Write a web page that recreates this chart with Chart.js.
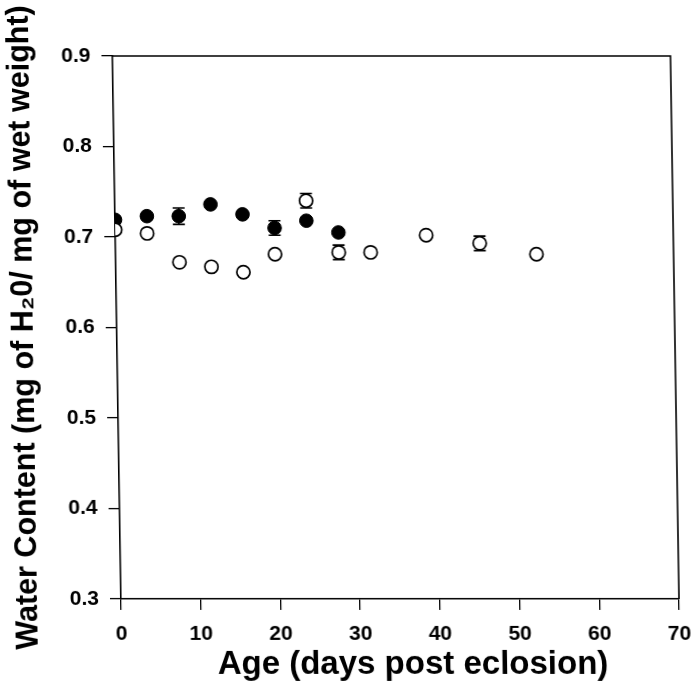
<!DOCTYPE html>
<html>
<head>
<meta charset="utf-8">
<script src="https://cdn.jsdelivr.net/npm/chart.js@4.4.1/dist/chart.umd.min.js"></script>
<style>
  html, body { margin: 0; padding: 0; background: #fff; }
  #wrap { width: 692px; height: 691px; }
  #c { display: block; transform: skewX(0.9deg); transform-origin: 0 599px; }
</style>
</head>
<body>
<div id="wrap"><canvas id="c" width="692" height="691"></canvas></div>
<script>
// ---- data ----
const filledDays = [0, 4, 8, 12, 16, 20, 24, 28];
const filledWater = [0.719, 0.723, 0.723, 0.736, 0.725, 0.710, 0.718, 0.705];
const filledErr = [0, 0, 0.009, 0, 0, 0.008, 0, 0];

const openDays = [0, 4, 8, 12, 16, 20, 24, 28, 32, 39, 45.7, 52.8];
const openWater = [0.708, 0.704, 0.672, 0.667, 0.661, 0.681, 0.740, 0.683, 0.683, 0.702, 0.693, 0.681];
const openErr = [0, 0, 0, 0, 0, 0, 0.008, 0.008, 0, 0, 0.008, 0];

const xTicks = [0, 10, 20, 30, 40, 50, 60, 70];
const yTicks = [0.3, 0.4, 0.5, 0.6, 0.7, 0.8, 0.9];

const xTitle = 'Age (days post eclosion)';
const yTitle = 'Water Content (mg of H\u20820/ mg of wet weight)';

const toPts = (xs, ys) => xs.map((x, i) => ({ x: x, y: ys[i] }));

const fontFam = '"Liberation Sans", Arial, Helvetica, sans-serif';

const errorBars = {
  id: 'errorBars',
  beforeDatasetsDraw(chart) {
    const ctx = chart.ctx;
    const xs = chart.scales.x, ys = chart.scales.y;
    chart.data.datasets.forEach((ds) => {
      const errs = ds.errs || [];
      ds.data.forEach((p, i) => {
        const e = errs[i];
        if (!e) return;
        const px = xs.getPixelForValue(p.x);
        const top = ys.getPixelForValue(p.y + e);
        const bot = ys.getPixelForValue(p.y - e);
        ctx.save();
        ctx.strokeStyle = '#000';
        ctx.lineWidth = 1.6;
        ctx.beginPath();
        ctx.moveTo(px, top); ctx.lineTo(px, bot);
        ctx.moveTo(px - 6, top); ctx.lineTo(px + 6, top);
        ctx.moveTo(px - 6, bot); ctx.lineTo(px + 6, bot);
        ctx.stroke();
        ctx.restore();
      });
    });
  }
};

const frame = {
  id: 'frame',
  afterDraw(chart) {
    const { left, right, top, bottom } = chart.chartArea;
    const ctx = chart.ctx;
    ctx.save();
    ctx.strokeStyle = '#000';
    ctx.lineWidth = 1.6;
    ctx.beginPath();
    ctx.moveTo(left, top); ctx.lineTo(right, top); ctx.lineTo(right, bottom);
    ctx.stroke();
    ctx.restore();
  }
};

// x-axis title drawn slightly right of the axis centre, as in the reference
const xTitlePlugin = {
  id: 'xTitlePlugin',
  afterDraw(chart) {
    const s = chart.scales.x;
    const ctx = chart.ctx;
    ctx.save();
    ctx.fillStyle = '#000';
    ctx.font = 'bold 33px ' + fontFam;
    ctx.textAlign = 'center';
    ctx.textBaseline = 'middle';
    ctx.fillText(xTitle, (s.left + s.right) / 2 + 12, 665);
    ctx.restore();
  }
};

new Chart(document.getElementById('c'), {
  type: 'scatter',
  data: {
    datasets: [
      {
        label: 'open',
        data: toPts(openDays, openWater),
        errs: openErr,
        pointRadius: 6.6,
        pointHoverRadius: 6.6,
        pointBackgroundColor: '#fff',
        pointBorderColor: '#000',
        pointBorderWidth: 1.7,
        showLine: false
      },
      {
        label: 'filled',
        data: toPts(filledDays, filledWater),
        errs: filledErr,
        pointRadius: 6.8,
        pointHoverRadius: 6.8,
        pointBackgroundColor: '#000',
        pointBorderColor: '#000',
        pointBorderWidth: 1,
        showLine: false
      }
    ]
  },
  options: {
    responsive: false,
    animation: false,
    devicePixelRatio: 1,
    layout: { padding: { top: 56, right: 13, left: 0, bottom: 0 } },
    plugins: { legend: { display: false }, tooltip: { enabled: false } },
    scales: {
      x: {
        type: 'linear',
        min: 0, max: 70,
        afterFit(s) { s.height = 92; s.paddingRight = 0; s.paddingLeft = 0; },
        afterBuildTicks(s) { s.ticks = xTicks.map(v => ({ value: v })); },
        border: { display: true, color: '#000', width: 1.6 },
        grid: { display: true, drawOnChartArea: false, drawTicks: true, tickLength: 11, color: '#000', lineWidth: 1.3 },
        ticks: { color: '#000', padding: 12, maxRotation: 0, font: { family: fontFam, size: 21, weight: 'bold' } },
        title: { display: false }
      },
      y: {
        type: 'linear',
        min: 0.3, max: 0.9,
        afterFit(s) { s.width = 121; },
        afterBuildTicks(s) { s.ticks = yTicks.map(v => ({ value: v })); },
        border: { display: true, color: '#000', width: 1.6 },
        grid: { display: true, drawOnChartArea: false, drawTicks: true, tickLength: 11, color: '#000', lineWidth: 1.3 },
        ticks: { color: '#000', padding: 11, callback: v => v.toFixed(1), font: { family: fontFam, size: 21, weight: 'bold' } },
        title: { display: true, text: yTitle, color: '#000', padding: { top: 10, bottom: 0 },
                 font: { family: fontFam, size: 30.5, weight: 'bold', lineHeight: 1.2 } }
      }
    }
  },
  plugins: [errorBars, frame, xTitlePlugin]
});
</script>
</body>
</html>
